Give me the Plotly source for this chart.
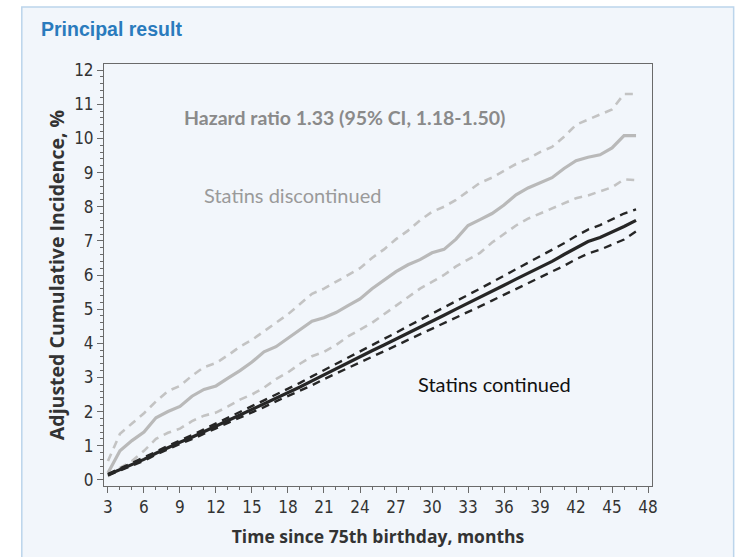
import plotly.graph_objects as go

# Follow-up time (months since 75th birthday)
months = [3, 4, 5, 6, 7, 8, 9, 10, 11, 12, 13, 14, 15, 16, 17, 18, 19, 20, 21, 22, 23, 24,
          25, 26, 27, 28, 29, 30, 31, 32, 33, 34, 35, 36, 37, 38, 39, 40, 41, 42, 43, 44,
          45, 46, 47]

# Statins discontinued: adjusted cumulative incidence (%) and 95% CI
disc_est = [0.2, 0.85, 1.15, 1.4, 1.82, 2.0, 2.15, 2.45, 2.65, 2.75, 2.98, 3.2, 3.45, 3.75,
            3.9, 4.15, 4.38, 4.65, 4.75, 4.9, 5.1, 5.3, 5.6, 5.85, 6.1, 6.3, 6.45, 6.65,
            6.75, 7.05, 7.45, 7.62, 7.8, 8.05, 8.35, 8.55, 8.7, 8.85, 9.12, 9.35, 9.45,
            9.52, 9.72, 10.08, 10.08]
disc_hi = [0.55, 1.35, 1.65, 1.95, 2.3, 2.6, 2.75, 3.05, 3.3, 3.42, 3.65, 3.9, 4.1, 4.35,
           4.6, 4.85, 5.15, 5.45, 5.6, 5.8, 6.0, 6.2, 6.5, 6.75, 7.05, 7.3, 7.6, 7.85, 8.0,
           8.2, 8.45, 8.7, 8.85, 9.05, 9.25, 9.4, 9.6, 9.75, 10.05, 10.4, 10.55, 10.7,
           10.85, 11.3, 11.3]
disc_lo = [0.1, 0.35, 0.55, 0.85, 1.2, 1.38, 1.5, 1.72, 1.88, 1.97, 2.15, 2.35, 2.5, 2.7,
           2.95, 3.15, 3.4, 3.62, 3.75, 3.95, 4.2, 4.4, 4.6, 4.85, 5.1, 5.35, 5.6, 5.8, 6.0,
           6.25, 6.45, 6.65, 6.95, 7.2, 7.45, 7.65, 7.8, 7.95, 8.1, 8.25, 8.33, 8.45, 8.57,
           8.8, 8.78]

# Statins continued: adjusted cumulative incidence (%) and 95% CI
cont_est = [0.15, 0.3, 0.45, 0.6, 0.78, 0.95, 1.1, 1.25, 1.42, 1.58, 1.74, 1.9, 2.06, 2.22,
            2.4, 2.56, 2.72, 2.9, 3.08, 3.25, 3.42, 3.6, 3.78, 3.95, 4.12, 4.3, 4.47, 4.64,
            4.82, 5.0, 5.17, 5.34, 5.52, 5.7, 5.88, 6.05, 6.22, 6.4, 6.6, 6.8, 6.98, 7.1,
            7.25, 7.42, 7.6]
cont_hi = [0.17, 0.33, 0.48, 0.64, 0.82, 1.0, 1.15, 1.31, 1.48, 1.65, 1.81, 1.98, 2.15,
           2.31, 2.5, 2.67, 2.84, 3.03, 3.21, 3.39, 3.57, 3.76, 3.95, 4.13, 4.31, 4.5, 4.68,
           4.86, 5.05, 5.24, 5.42, 5.6, 5.79, 5.98, 6.17, 6.35, 6.53, 6.72, 6.93, 7.14,
           7.33, 7.46, 7.62, 7.8, 7.92]
cont_lo = [0.13, 0.27, 0.42, 0.56, 0.74, 0.9, 1.05, 1.19, 1.36, 1.51, 1.67, 1.82, 1.97,
           2.13, 2.3, 2.45, 2.6, 2.77, 2.95, 3.11, 3.27, 3.44, 3.61, 3.77, 3.93, 4.1, 4.26,
           4.42, 4.59, 4.76, 4.92, 5.08, 5.25, 5.42, 5.59, 5.75, 5.91, 6.08, 6.27, 6.46,
           6.63, 6.74, 6.88, 7.04, 7.28]

x_ticks = [3, 6, 9, 12, 15, 18, 21, 24, 27, 30, 33, 36, 39, 42, 45, 48]
y_ticks = [0, 1, 2, 3, 4, 5, 6, 7, 8, 9, 10, 11, 12]

PANEL = "#f2f6fb"
GREY_SOLID = "#b9b9b9"
GREY_DASH = "#c3c3c3"
DARK = "#262626"
DASH = "8px,6px"
NARROW = "Liberation Sans Narrow, Arial Narrow, DejaVu Sans Condensed, sans-serif"

fig = go.Figure()

def add_line(y, color, width, dash=None):
    fig.add_trace(go.Scatter(
        x=months, y=y, mode="lines", showlegend=False, hoverinfo="skip",
        line=dict(color=color, width=width, dash=dash or "solid"),
    ))

add_line(disc_hi, GREY_DASH, 2.6, DASH)
add_line(disc_lo, GREY_DASH, 2.6, DASH)
add_line(disc_est, GREY_SOLID, 3.2)
add_line(cont_hi, DARK, 2.4, DASH)
add_line(cont_lo, DARK, 2.4, DASH)
add_line(cont_est, DARK, 3.2)

# Light panel behind the whole chart
fig.add_shape(type="rect", xref="paper", yref="paper", layer="below",
              x0=-0.15, x1=1.149, y0=-0.3, y1=1.135,
              fillcolor=PANEL, line=dict(color="#bcd5ec", width=1.5))

fig.add_annotation(xref="paper", yref="paper", x=-0.119, y=1.083, xanchor="left",
                   yanchor="middle", showarrow=False,
                   text="<b>Principal result</b>",
                   font=dict(family="Liberation Sans, Arial, sans-serif", size=19.5,
                             color="#2a7bbd"))

fig.add_annotation(x=22.67, y=10.6, showarrow=False, xanchor="center", yanchor="middle",
                   text="<b>Hazard ratio 1.33 (95% CI, 1.18-1.50)</b>",
                   font=dict(family="Lato, Open Sans, sans-serif", size=19.5, color="#8a8a8a"))
fig.add_annotation(x=18.4, y=8.33, showarrow=False, xanchor="center", yanchor="middle",
                   text="Statins discontinued",
                   font=dict(family="Lato, Open Sans, sans-serif", size=20, color="#9a9a9a"))
fig.add_annotation(x=35.17, y=2.8, showarrow=False, xanchor="center", yanchor="middle",
                   text="Statins continued",
                   font=dict(family="Lato, Open Sans, sans-serif", size=20, color="#111111"))

axis_common = dict(
    showline=True, linecolor="#6a6a6a", linewidth=1, mirror=True,
    showgrid=False, zeroline=False,
    ticks="outside", ticklen=6, tickwidth=1, tickcolor="#6a6a6a",
    tickfont=dict(family=NARROW, size=17, color="#333333"),
)

fig.update_xaxes(
    range=[2.67, 48.33], tickvals=x_ticks, ticktext=[str(v) for v in x_ticks],
    minor=dict(dtick=1, tick0=3, ticks="outside", ticklen=3, tickcolor="#6a6a6a"),
    title=dict(text="<b>Time since 75th birthday, months</b>", standoff=14,
               font=dict(family="Open Sans, sans-serif", size=17.5, color="#333333")),
    **axis_common,
)
fig.update_yaxes(
    range=[-0.18, 12.18], tickvals=y_ticks, ticktext=[str(v) for v in y_ticks],
    minor=dict(dtick=0.2, tick0=0, ticks="outside", ticklen=3, tickcolor="#6a6a6a"),
    title=dict(text="<b>Adjusted Cumulative Incidence, %</b>", standoff=4,
               font=dict(family="Open Sans, sans-serif", size=19.5, color="#333333")),
    **axis_common,
)

fig.update_layout(
    width=741, height=557,
    margin=dict(l=104, r=89, t=64, b=71),
    paper_bgcolor="white", plot_bgcolor=PANEL,
)

fig.write_html("out.html")
